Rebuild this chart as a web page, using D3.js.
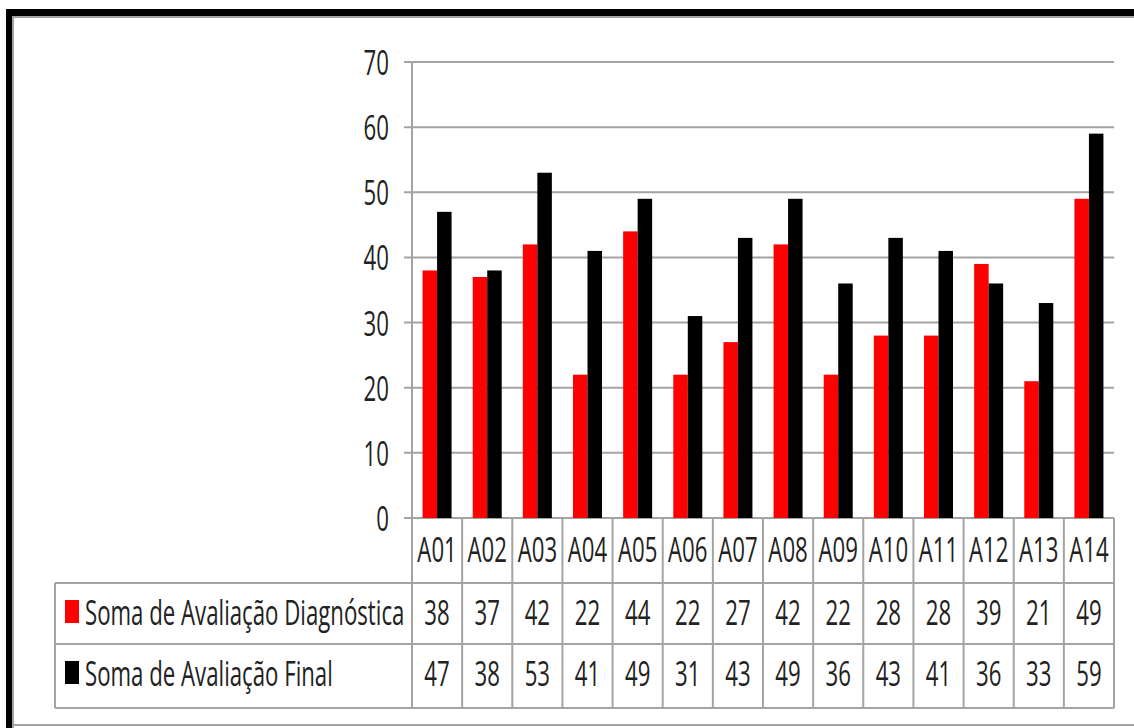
<!DOCTYPE html>
<html lang="pt">
<head>
<meta charset="UTF-8">
<title>Soma de Avaliação</title>
<script src="https://d3js.org/d3.v7.min.js"></script>
<style>
  html, body { margin: 0; padding: 0; background: #fff; }
  svg text { font-family: "Open Sans", "Liberation Sans", sans-serif; font-size: 35px; fill: #222; }
</style>
</head>
<body>
<div id="chart"></div>
<script>
// dados
const alunos = ["A01","A02","A03","A04","A05","A06","A07","A08","A09","A10","A11","A12","A13","A14"];
const diagnostica = [38, 37, 42, 22, 44, 22, 27, 42, 22, 28, 28, 39, 21, 49];
const final = [47, 38, 53, 41, 49, 31, 43, 49, 36, 43, 41, 36, 33, 59];
const series = [
  { nome: "Soma de Avaliação Diagnóstica", cor: "#ff0000", valores: diagnostica },
  { nome: "Soma de Avaliação Final", cor: "#000000", valores: final }
];
const yTicks = [0, 10, 20, 30, 40, 50, 60, 70];

const W = 1134, H = 728;
const plotL = 412, plotR = 1114, plotT = 62, base = 518;
const rowH = [65, 61, 64];   // cabeçalho, linha 1, linha 2
const legendX = 55;
const sx = 0.635;            // fonte estreita
const grey = "#a3a3a3";

const svg = d3.select("#chart").append("svg")
  .attr("width", W).attr("height", H);

const x = d3.scaleBand().domain(alunos).range([plotL, plotR]).padding(0);
const y = d3.scaleLinear().domain([0, 70]).range([base, plotT]);
const inner = d3.scaleBand().domain([0, 1]).range([0, 29]);

// texto estreito
function txt(g, s, px, py, anchor) {
  return g.append("text")
    .attr("transform", `translate(${px},${py}) scale(${sx},1)`)
    .attr("text-anchor", anchor || "start")
    .text(s);
}

// moldura
svg.append("rect").attr("x", 6).attr("y", 9).attr("width", W - 6).attr("height", 7).attr("fill", "#000");
svg.append("rect").attr("x", 6).attr("y", 9).attr("width", 6).attr("height", H - 9).attr("fill", "#000");
svg.append("line").attr("x1", 12).attr("x2", W).attr("y1", 17).attr("y2", 17).attr("stroke", grey).attr("stroke-width", 2);
svg.append("line").attr("x1", 13).attr("x2", 13).attr("y1", 16).attr("y2", H).attr("stroke", grey).attr("stroke-width", 2);
svg.append("line").attr("x1", 12).attr("x2", W).attr("y1", 725).attr("y2", 725).attr("stroke", grey).attr("stroke-width", 2);

// grade e eixo
const grid = svg.append("g");
yTicks.forEach(t => {
  grid.append("line")
    .attr("x1", plotL - 8).attr("x2", plotR)
    .attr("y1", y(t)).attr("y2", y(t))
    .attr("stroke", grey).attr("stroke-width", 2);
  txt(grid, t, 389, y(t) + 13, "end");
});
grid.append("line").attr("x1", plotL).attr("x2", plotL)
  .attr("y1", plotT).attr("y2", base)
  .attr("stroke", grey).attr("stroke-width", 2);

// barras
series.forEach((s, i) => {
  svg.append("g").selectAll("rect")
    .data(alunos)
    .join("rect")
    .attr("x", (d, j) => x(d) + (x.bandwidth() - 29) / 2 + inner(i))
    .attr("y", (d, j) => y(s.valores[j]))
    .attr("width", inner.bandwidth())
    .attr("height", (d, j) => base - y(s.valores[j]))
    .attr("fill", s.cor);
});

// tabela de dados
const tab = svg.append("g");
const rowTop = [base, base + rowH[0], base + rowH[0] + rowH[1]];
const tabBottom = rowTop[2] + rowH[2];
const hline = (x1, x2, yy) => tab.append("line").attr("x1", x1).attr("x2", x2)
  .attr("y1", yy).attr("y2", yy).attr("stroke", grey).attr("stroke-width", 2);
const vline = (xx, y1, y2) => tab.append("line").attr("x1", xx).attr("x2", xx)
  .attr("y1", y1).attr("y2", y2).attr("stroke", grey).attr("stroke-width", 2);

hline(legendX, plotR, rowTop[1]);
hline(legendX, plotR, rowTop[2]);
hline(legendX, plotR, tabBottom);
vline(legendX, rowTop[1], tabBottom);
alunos.forEach(a => vline(x(a), base, tabBottom));
vline(plotR, base, tabBottom);

alunos.forEach((a, j) => {
  const cx = x(a) + x.bandwidth() / 2;
  txt(tab, a, cx, rowTop[0] + 44, "middle");
  series.forEach((s, i) => txt(tab, s.valores[j], cx, rowTop[i + 1] + 42, "middle"));
});

series.forEach((s, i) => {
  const ry = rowTop[i + 1];
  tab.append("rect").attr("x", 65).attr("y", ry + 17).attr("width", 14).attr("height", 23).attr("fill", s.cor);
  txt(tab, s.nome, 85, ry + 42, "start");
});
</script>
</body>
</html>
